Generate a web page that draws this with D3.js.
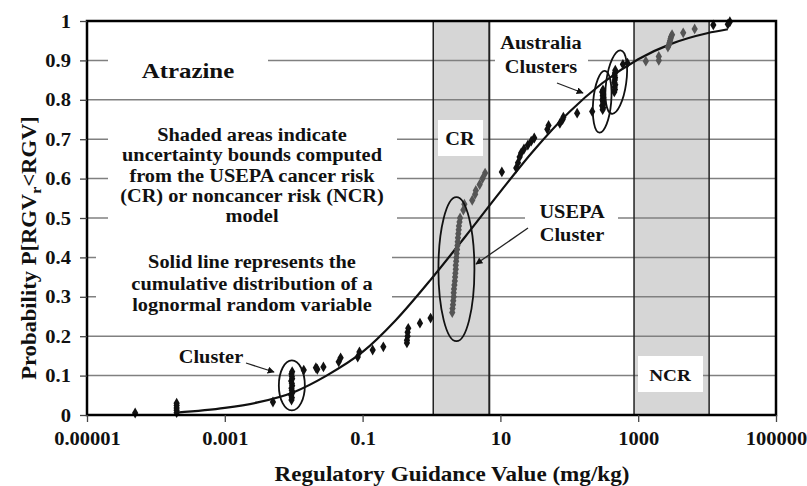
<!DOCTYPE html>
<html>
<head>
<meta charset="utf-8">
<script src="https://cdn.jsdelivr.net/npm/d3@7"></script>
<style>
  body { margin: 0; background: #fff; }
  svg { font-family: "Liberation Serif", "Times New Roman", serif; font-weight: bold; }
</style>
</head>
<body>
<svg id="chart" width="807" height="486"></svg>
<script>
// tick labels
const xTickValues = [1e-5, 1e-3, 1e-1, 10, 1000, 1e5];
const xTickLabels = ["0.00001", "0.001", "0.1", "10", "1000", "100000"];
const yTickValues = [0, 0.1, 0.2, 0.3, 0.4, 0.5, 0.6, 0.7, 0.8, 0.9, 1];
const yTickLabels = ["0", "0.1", "0.2", "0.3", "0.4", "0.5", "0.6", "0.7", "0.8", "0.9", "1"];

// uncertainty bands [low, high] in mg/kg
const crBand = [1.06, 6.9];
const ncrBand = [870, 10700];

// lognormal CDF
const curveX = [0.0002, 0.001, 0.003, 0.01, 0.03, 0.1, 0.3, 1, 3, 10, 30, 100, 300, 1000, 3000, 10000, 20000];
const curveP = [0.006, 0.018, 0.032, 0.058, 0.1, 0.16, 0.24, 0.346, 0.45, 0.567, 0.67, 0.769, 0.842, 0.903, 0.942, 0.969, 0.979];

// black diamonds [RGV, P]
const blackPoints = [
  [0.00005, 0.005],
  [0.0002, 0.006], [0.0002, 0.012], [0.0002, 0.018], [0.0002, 0.024], [0.0002, 0.03],
  [0.005, 0.033],
  [0.0093, 0.038], [0.0094, 0.044], [0.0092, 0.05], [0.0095, 0.056], [0.0094, 0.062],
  [0.0093, 0.068], [0.0095, 0.074], [0.0094, 0.08], [0.0092, 0.086], [0.0095, 0.092],
  [0.0094, 0.098], [0.0093, 0.104], [0.0095, 0.11],
  [0.014, 0.114], [0.022, 0.116], [0.021, 0.12], [0.027, 0.122],
  [0.045, 0.135], [0.048, 0.145], [0.085, 0.147], [0.09, 0.16],
  [0.14, 0.165], [0.2, 0.173], [0.44, 0.183], [0.44, 0.19], [0.45, 0.2],
  [0.45, 0.21], [0.46, 0.22], [0.68, 0.233], [0.97, 0.246],
  [10.5, 0.617], [17, 0.627], [18, 0.64], [19, 0.655], [20, 0.665], [22, 0.675],
  [25, 0.685], [28, 0.695], [31, 0.703], [48, 0.725], [50, 0.735], [73, 0.74],
  [80, 0.75], [82, 0.756], [130, 0.766], [215, 0.77],
  [305, 0.775], [310, 0.78], [300, 0.785], [315, 0.79], [308, 0.795], [302, 0.8],
  [312, 0.805], [306, 0.81], [310, 0.815], [300, 0.82], [308, 0.825],
  [450, 0.82], [460, 0.826], [455, 0.832], [465, 0.838], [452, 0.844], [458, 0.85],
  [462, 0.856], [455, 0.862], [460, 0.868], [465, 0.875],
  [600, 0.89], [700, 0.893],
  [12300, 0.99], [20000, 0.992], [21400, 0.998]
];

// gray diamonds (inside the shaded bands) [RGV, P]
const grayPoints = [
  [2.0, 0.26], [2.02, 0.27], [2.05, 0.28], [2.07, 0.29], [2.1, 0.3], [2.1, 0.31],
  [2.12, 0.32], [2.15, 0.33], [2.18, 0.34], [2.2, 0.35], [2.22, 0.36], [2.25, 0.37],
  [2.25, 0.38], [2.28, 0.39], [2.3, 0.4], [2.32, 0.41], [2.35, 0.42], [2.38, 0.43],
  [2.4, 0.44], [2.42, 0.45], [2.45, 0.46], [2.48, 0.47], [2.5, 0.48], [2.55, 0.49],
  [2.6, 0.5], [2.9, 0.52], [3.0, 0.535], [3.9, 0.545], [4.3, 0.56], [4.4, 0.57],
  [5.0, 0.585], [5.5, 0.6], [6.0, 0.614],
  [1290, 0.898], [1990, 0.9], [1990, 0.91],
  [2700, 0.934], [2800, 0.94], [2850, 0.945], [2900, 0.95], [2950, 0.955], [3000, 0.96], [3100, 0.965],
  [4500, 0.97], [6600, 0.98]
];

const svg = d3.select("#chart");
const plotLeft = 87, plotRight = 776, plotTop = 21, plotBottom = 415;
const STRETCH = 1.13; // source font renders wider than Liberation Serif

const x = d3.scaleLog().domain([1e-5, 1e5]).range([plotLeft, plotRight]);
const y = d3.scaleLinear().domain([0, 1]).range([plotBottom, plotTop]);

const gridColor = "#808080";
const bandColor = "#d6d6d6";

// widen a text element to match the reference glyph widths
function stretchText(sel, k) {
  sel.each(function () {
    const len = this.getComputedTextLength();
    d3.select(this)
      .attr("textLength", len * k)
      .attr("lengthAdjust", "spacingAndGlyphs");
  });
}

// shaded bands
svg.selectAll("rect.band")
  .data([crBand, ncrBand])
  .enter()
  .append("rect")
  .attr("class", "band")
  .attr("x", d => x(d[0]))
  .attr("y", plotTop)
  .attr("width", d => x(d[1]) - x(d[0]))
  .attr("height", plotBottom - plotTop)
  .attr("fill", bandColor);

// horizontal gridlines
svg.append("g")
  .selectAll("line")
  .data(yTickValues.slice(1, -1))
  .enter()
  .append("line")
  .attr("x1", plotLeft)
  .attr("x2", plotRight)
  .attr("y1", d => y(d))
  .attr("y2", d => y(d))
  .attr("stroke", gridColor)
  .attr("stroke-width", 1.5);

// band edges
svg.append("g")
  .selectAll("line")
  .data([crBand[0], crBand[1], ncrBand[0], ncrBand[1]])
  .enter()
  .append("line")
  .attr("x1", d => x(d))
  .attr("x2", d => x(d))
  .attr("y1", plotTop)
  .attr("y2", plotBottom)
  .attr("stroke", "#222")
  .attr("stroke-width", (d, i) => i === 1 ? 2 : 1.5);

// white boxes behind labels (they break the gridlines)
const boxes = [
  [108, 48, 160, 40],   // Atrazine
  [108, 122, 289, 106], // shaded areas text
  [96, 248, 296, 70],   // solid line text
  [438, 120, 45, 36],   // CR
  [638, 356, 65, 36],   // NCR
  [525, 198, 93, 48],   // USEPA Cluster
  [495, 28, 93, 50]     // Australia Clusters
];
svg.append("g")
  .selectAll("rect")
  .data(boxes)
  .enter()
  .append("rect")
  .attr("x", d => d[0])
  .attr("y", d => d[1])
  .attr("width", d => d[2])
  .attr("height", d => d[3])
  .attr("fill", "#fff");

// text annotations, one text element per line
const notes = svg.append("g").attr("id", "notes");
function addText(lines, cx, y0, size, dy) {
  lines.forEach((s, i) => {
    notes.append("text")
      .attr("x", cx)
      .attr("y", y0 + i * dy)
      .attr("text-anchor", "middle")
      .attr("font-size", size)
      .attr("fill", "#111")
      .text(s);
  });
}
addText(["Atrazine"], 188, 78, 22, 0);
addText(["Shaded areas indicate", "uncertainty bounds computed", "from the USEPA cancer risk",
         "(CR) or noncancer risk (NCR)", "model"], 252, 141, 18, 20.3);
addText(["Solid line represents the", "cumulative distribution of a", "lognormal random variable"], 252, 268, 18, 21.5);
addText(["CR"], 460, 145, 18, 0);
addText(["NCR"], 670, 381, 17, 0);
addText(["USEPA", "Cluster"], 572, 218, 18, 23);
addText(["Australia", "Clusters"], 541, 49, 18, 24);
addText(["Cluster"], 211, 363, 18, 0);
stretchText(notes.selectAll("text"), STRETCH);

// lognormal curve
const curve = d3.line()
  .x(d => x(d[0]))
  .y(d => y(d[1]))
  .curve(d3.curveMonotoneX);
svg.append("path")
  .datum(curveX.map((v, i) => [v, curveP[i]]))
  .attr("d", curve)
  .attr("fill", "none")
  .attr("stroke", "#111")
  .attr("stroke-width", 2.2);

// diamonds
const diamond = d3.symbol(d3.symbolDiamond).size(34);
svg.append("g")
  .selectAll("path")
  .data(grayPoints)
  .enter()
  .append("path")
  .attr("d", diamond)
  .attr("transform", d => `translate(${ x(d[0]) },${ y(d[1]) })`)
  .attr("fill", "#555");
svg.append("g")
  .selectAll("path")
  .data(blackPoints)
  .enter()
  .append("path")
  .attr("d", diamond)
  .attr("transform", d => `translate(${ x(d[0]) },${ y(d[1]) })`)
  .attr("fill", "#111");

// cluster ellipses: center in data units, radii in px
const ellipses = [
  [0.0094, 0.075, 13, 25, 0],
  [2.3, 0.37, 18, 72, 0],
  [300, 0.795, 9, 31, 5],
  [480, 0.845, 10, 32, 8]
];
svg.append("g")
  .selectAll("ellipse")
  .data(ellipses)
  .enter()
  .append("ellipse")
  .attr("transform", d => `translate(${ x(d[0]) },${ y(d[1]) }) rotate(${ d[4] })`)
  .attr("rx", d => d[2])
  .attr("ry", d => d[3])
  .attr("fill", "none")
  .attr("stroke", "#111")
  .attr("stroke-width", 1.8);

// arrows
svg.append("defs").append("marker")
  .attr("id", "head")
  .attr("viewBox", "0 0 10 10")
  .attr("refX", 9).attr("refY", 5)
  .attr("markerWidth", 7).attr("markerHeight", 7)
  .attr("markerUnits", "userSpaceOnUse")
  .attr("orient", "auto")
  .append("path")
  .attr("d", "M0,0 L10,5 L0,10 Z")
  .attr("fill", "#111");
const arrows = [
  [246, 363, 274, 372],
  [528, 228, 476, 264],
  [557, 83, 583, 93]
];
svg.append("g")
  .selectAll("line")
  .data(arrows)
  .enter()
  .append("line")
  .attr("x1", d => d[0]).attr("y1", d => d[1])
  .attr("x2", d => d[2]).attr("y2", d => d[3])
  .attr("stroke", "#222")
  .attr("stroke-width", 1.3)
  .attr("marker-end", "url(#head)");

// plot border
svg.append("rect")
  .attr("x", plotLeft).attr("y", plotTop)
  .attr("width", plotRight - plotLeft).attr("height", plotBottom - plotTop)
  .attr("fill", "none")
  .attr("stroke", "#000")
  .attr("stroke-width", 2.5);

// axes
const xAxis = svg.append("g")
  .attr("transform", `translate(0,${ plotBottom })`)
  .call(d3.axisBottom(x).tickValues(xTickValues).tickSize(7).tickSizeOuter(0)
    .tickFormat((d, i) => xTickLabels[i]));
const yAxis = svg.append("g")
  .attr("transform", `translate(${ plotLeft },0)`)
  .call(d3.axisLeft(y).tickValues(yTickValues).tickSize(7).tickSizeOuter(0)
    .tickFormat((d, i) => yTickLabels[i]));
[xAxis, yAxis].forEach(a => {
  a.select(".domain").remove();
  a.selectAll("line").attr("stroke", "#444").attr("stroke-width", 1.3);
  a.selectAll("text")
    .attr("font-family", "Liberation Serif, Times New Roman, serif")
    .attr("font-weight", "bold")
    .attr("font-size", 19)
    .attr("fill", "#111");
  stretchText(a.selectAll("text"), 1.08);
});
xAxis.selectAll("text").attr("dy", "1.05em");
yAxis.selectAll("text").attr("x", -16);

// axis titles
const xTitle = svg.append("text")
  .attr("x", 452).attr("y", 481)
  .attr("text-anchor", "middle")
  .attr("font-size", 21)
  .attr("fill", "#111")
  .text("Regulatory Guidance Value (mg/kg)");
stretchText(xTitle, 1.1);

const yTitle = svg.append("text")
  .attr("transform", "translate(36,248) rotate(-90)")
  .attr("text-anchor", "middle")
  .attr("font-size", 20)
  .attr("fill", "#111");
yTitle.append("tspan").text("Probability P[RGV");
yTitle.append("tspan").attr("font-size", 14).attr("dy", 5).text("r");
yTitle.append("tspan").attr("dy", -5).text("<RGV]");
stretchText(yTitle, STRETCH);
</script>
</body>
</html>
